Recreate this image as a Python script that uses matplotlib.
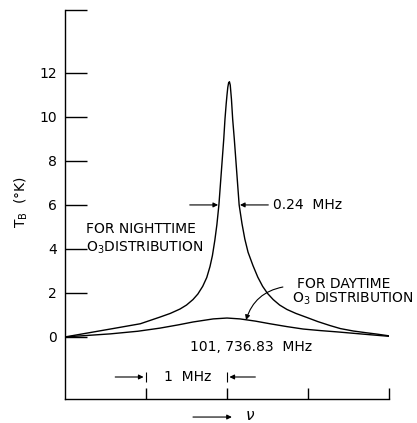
import matplotlib
matplotlib.use('Agg')
import matplotlib.pyplot as plt

# frequency offset from 101,736.83 MHz (MHz) and brightness temperature (K)
night_x = [-2.0, -1.72, -1.44, -1.07, -0.83, -0.7, -0.58, -0.5, -0.42, -0.36,
           -0.30, -0.25, -0.21, -0.18, -0.15, -0.125, -0.10, -0.08, -0.06, -0.04,
           -0.025, -0.01, 0.0, 0.01, 0.02, 0.03, 0.04, 0.055, 0.07, 0.09,
           0.11, 0.13, 0.15, 0.185, 0.22, 0.26, 0.32, 0.38, 0.44, 0.5,
           0.57, 0.65, 0.74, 0.85, 0.99, 1.12, 1.27, 1.4, 1.56, 1.7,
           1.85, 2.0]
night_y = [0.0, 0.18, 0.36, 0.6, 0.9, 1.07, 1.27, 1.45, 1.7, 1.95,
           2.3, 2.7, 3.2, 3.7, 4.4, 5.1, 6.0, 7.0, 8.0, 9.0,
           9.9, 10.6, 11.0, 11.35, 11.55, 11.6, 11.45, 10.8, 9.9, 9.0,
           8.0, 7.0, 6.0, 5.15, 4.45, 3.85, 3.25, 2.72, 2.3, 1.98,
           1.7, 1.45, 1.25, 1.07, 0.88, 0.7, 0.52, 0.38, 0.27, 0.2,
           0.13, 0.05]

day_x = [-2.0, -1.72, -1.44, -1.1, -0.83, -0.6, -0.42, -0.17, 0.0, 0.16,
         0.35, 0.53, 0.74, 0.94, 1.15, 1.36, 1.77, 2.0]
day_y = [0.0, 0.07, 0.14, 0.26, 0.4, 0.55, 0.68, 0.82, 0.86, 0.82,
         0.72, 0.6, 0.47, 0.36, 0.29, 0.23, 0.1, 0.03]

y_ticks = [0, 2, 4, 6, 8, 10, 12]
x_ticks = [-1, 0, 1, 2]

y_lo, y_hi = -2.82, 14.86
fs = 10

fig = plt.figure(figsize=(4.17, 4.23), dpi=100)
ax = fig.add_axes([65 / 417, 24 / 423, 324 / 417, 389 / 423])

ax.plot(night_x, night_y, color='k', lw=1.0)
ax.plot(day_x, day_y, color='k', lw=1.0)

ax.set_xlim(-2, 2)
ax.set_ylim(y_lo, y_hi)
ax.spines['top'].set_visible(False)
ax.spines['right'].set_visible(False)
for s in ('left', 'bottom'):
  ax.spines[s].set_linewidth(1.0)

ax.set_yticks(y_ticks + [y_hi])
ax.set_yticklabels([str(t) for t in y_ticks] + [''])
ax.tick_params(axis='y', direction='in', length=16, width=1.0, pad=6, labelsize=fs)
ax.set_xticks(x_ticks)
ax.set_xticklabels([])
ax.tick_params(axis='x', direction='in', length=8, width=1.0)

fig.text(21 / 417, 1 - 202 / 423, 'T$_{\\rm B}$  (°K)', rotation=90,
         ha='center', va='center', fontsize=fs)

arrow = dict(arrowstyle='-|>', lw=0.8, color='k', mutation_scale=7, shrinkA=0, shrinkB=0)

# labels on the curves
ax.text(-1.74, 4.9, 'FOR NIGHTTIME', fontsize=fs, va='center', ha='left')
ax.text(-1.74, 4.05, 'O$_3$DISTRIBUTION', fontsize=fs, va='center', ha='left')

ax.text(0.86, 2.4, 'FOR DAYTIME', fontsize=fs, va='center', ha='left')
ax.text(0.80, 1.72, 'O$_3$ DISTRIBUTION', fontsize=fs, va='center', ha='left')
ax.annotate('', xy=(0.235, 0.77), xytext=(0.69, 2.27),
            arrowprops=dict(arrow, connectionstyle='arc3,rad=0.3'))

# line width marker
ax.annotate('', xy=(-0.11, 6.0), xytext=(-0.46, 6.0), arrowprops=arrow)
ax.annotate('', xy=(0.16, 6.0), xytext=(0.51, 6.0), arrowprops=arrow)
ax.text(0.57, 6.0, '0.24  MHz', fontsize=fs, va='center', ha='left')

ax.text(0.30, -0.45, '101, 736.83  MHz', fontsize=fs, va='center', ha='center')

# 1 MHz scale
ax.annotate('', xy=(-1.03, -1.82), xytext=(-1.38, -1.82), arrowprops=arrow)
ax.annotate('', xy=(0.03, -1.82), xytext=(0.35, -1.82), arrowprops=arrow)
ax.vlines([-1, 0], -2.05, -1.59, color='k', lw=0.8)
ax.text(-0.49, -1.82, '1  MHz', fontsize=fs, va='center', ha='center')

# frequency arrow below the axis
ax.annotate('', xy=(0.06, -3.64), xytext=(-0.42, -3.64), arrowprops=arrow,
            annotation_clip=False)
ax.text(0.22, -3.58, r'$\nu$', fontsize=fs + 1, va='center', ha='left', clip_on=False)

fig.savefig('out.png', dpi=100)
